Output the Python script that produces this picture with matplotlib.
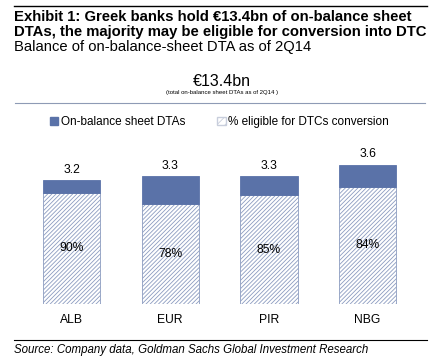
import matplotlib
matplotlib.use("Agg")
from matplotlib import pyplot as plt
from matplotlib.patches import Patch
from matplotlib.lines import Line2D
import numpy as np

plt.rcParams['font.family'] = ['Liberation Sans', 'DejaVu Sans']
plt.rcParams['hatch.linewidth'] = 0.6

# data
banks = ['ALB', 'EUR', 'PIR', 'NBG']
dta_total = [3.2, 3.3, 3.3, 3.6]
pct_eligible = [90, 78, 85, 84]

blue = '#5A72A8'
hatch_col = '#8C9CC0'

W, H = 445, 364
fig = plt.figure(figsize=(W / 100, H / 100), dpi=100)

# axes placed in pixels
x_lo, x_hi = -0.6, 3.6
px_per_cat = 98.7
left_px = 71.5 - 0.6 * px_per_cat
ax_w = (x_hi - x_lo) * px_per_cat
y_hi = 4.0
px_per_unit = 38.7
bottom_px = 304
ax_h = y_hi * px_per_unit
ax = fig.add_axes([left_px / W, (H - bottom_px) / H, ax_w / W, ax_h / H])

x = np.arange(len(banks))
tot = np.array(dta_total)
frac = np.array(pct_eligible) / 100.0
elig = tot * frac
rest = tot - elig

ax.bar(x, elig, width=0.58, color='white', edgecolor=hatch_col, hatch='////////',
       linewidth=0.6)
ax.bar(x, rest, width=0.58, bottom=elig, color=blue, edgecolor=blue, linewidth=0.6)

for i in range(len(banks)):
    ax.text(x[i], tot[i] + 0.12, f"{dta_total[i]:.1f}", ha='center', va='bottom',
            fontsize=8.7)
    ax.text(x[i], elig[i] / 2, f"{pct_eligible[i]}%", ha='center', va='center',
            fontsize=8.7)

ax.set_xlim(x_lo, x_hi)
ax.set_ylim(0, y_hi)
ax.set_xticks(x)
ax.set_xticklabels(banks, fontsize=8.7)
ax.tick_params(axis='x', length=0, pad=7)
ax.set_yticks([])
for s in ax.spines.values():
    s.set_visible(False)

# header / footer text
fig.text(14 / W, 1 - 21 / H, "Exhibit 1: Greek banks hold €13.4bn of on-balance sheet",
         fontsize=10.7, fontweight='bold', va='baseline')
fig.text(14 / W, 1 - 36 / H, "DTAs, the majority may be eligible for conversion into DTC",
         fontsize=10.7, fontweight='bold', va='baseline')
fig.text(14 / W, 1 - 50.5 / H, "Balance of on-balance-sheet DTA as of 2Q14",
         fontsize=10.6, va='baseline')
fig.text(222 / W, 1 - 86 / H, "€13.4bn", fontsize=11.5, ha='center', va='baseline')
fig.text(222 / W, 1 - 94 / H, "(total on-balance sheet DTAs as of 2Q14 )",
         fontsize=4.3, ha='center', va='baseline')
fig.text(14 / W, 1 - 353 / H, "Source: Company data, Goldman Sachs Global Investment Research",
         fontsize=8.3, style='italic', va='baseline')

fig.add_artist(Line2D([14 / W, 427 / W], [1 - 6 / H, 1 - 6 / H], color='black', lw=1.0))
fig.add_artist(Line2D([15 / W, 425 / W], [1 - 103 / H, 1 - 103 / H], color='#8E9BB5', lw=0.8))
fig.add_artist(Line2D([14 / W, 427 / W], [1 - 340 / H, 1 - 340 / H], color='black', lw=0.8))

handles = [Patch(facecolor=blue, edgecolor=blue, label='On-balance sheet DTAs'),
           Patch(facecolor='white', edgecolor='#C8CEDC', hatch='////',
                 label='% eligible for DTCs conversion')]
fig.legend(handles=handles, loc='center left', bbox_to_anchor=(50 / W, 1 - 122 / H),
           ncol=2, frameon=False, fontsize=8.5, handlelength=0.7, handleheight=0.7,
           handletextpad=0.2, columnspacing=2.75, borderpad=0, borderaxespad=0)

fig.savefig('out.png', dpi=100)
